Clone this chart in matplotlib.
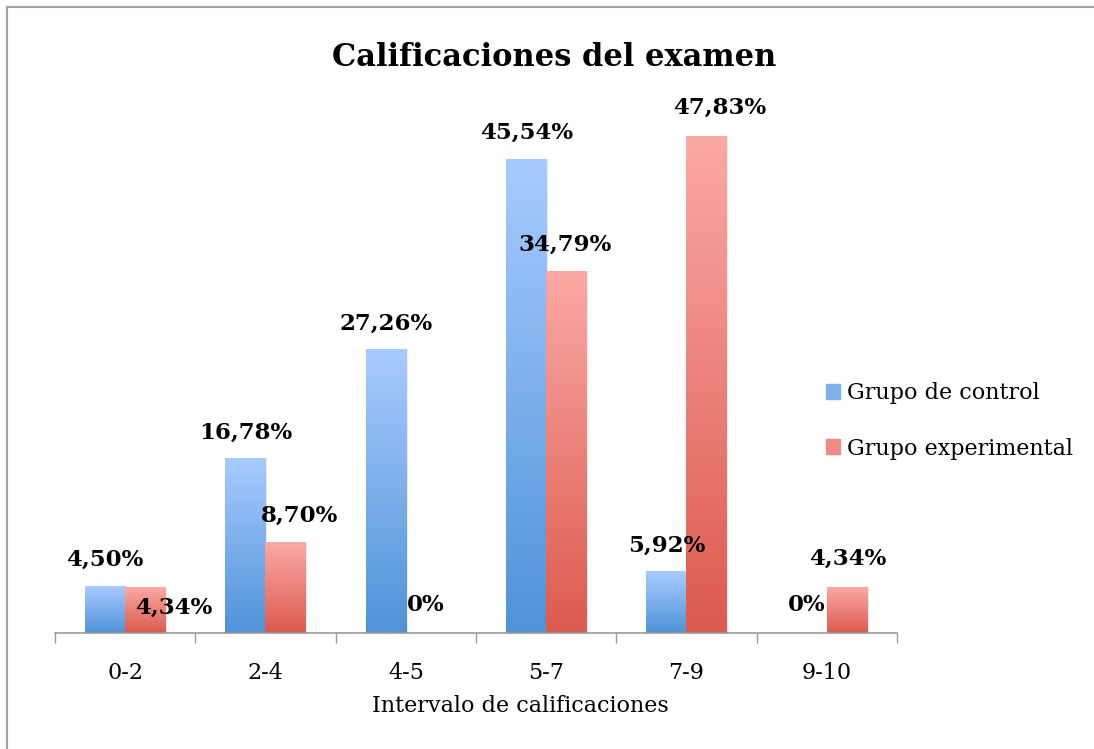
import numpy as np
import matplotlib.pyplot as plt
from matplotlib.colors import LinearSegmentedColormap
from matplotlib.patches import Rectangle
from matplotlib.lines import Line2D

categories = ['0-2', '2-4', '4-5', '5-7', '7-9', '9-10']
control = [4.50, 16.78, 27.26, 45.54, 5.92, 0.0]
experimental = [4.34, 8.70, 0.0, 34.79, 47.83, 4.34]
control_labels = ['4,50%', '16,78%', '27,26%', '45,54%', '5,92%', '0%']
experimental_labels = ['4,34%', '8,70%', '0%', '34,79%', '47,83%', '4,34%']
series_names = ['Grupo de control', 'Grupo experimental']

# label offsets in pixels (dx, dy from bar top)
ctrl_off = [(0, 26), (0, 26), (0, 26), (0, 27), (0, 26), (0, 28)]
exp_off = [(29, -20), (14, 27), (0, 28), (-1, 27), (13, 28), (1, 29)]

blue_cmap = LinearSegmentedColormap.from_list('b', ['#4f93d8', '#a8cbff'])
red_cmap = LinearSegmentedColormap.from_list('r', ['#dc5a4f', '#fba9a5'])

plt.rcParams['font.family'] = ['DejaVu Serif']

fig = plt.figure(figsize=(10.94, 7.49), dpi=100)
ax = fig.add_axes([55 / 1094, 1 - 633 / 749, (897 - 55) / 1094, (633 - 113.5) / 749])

x = np.arange(len(categories))
w = 40 / 140.3
grad = np.linspace(0, 1, 256).reshape(-1, 1)


def gradient_bars(xs, vals, cmap):
    for xi, v in zip(xs, vals):
        if v <= 0:
            continue
        # soft shadow
        ax.add_patch(Rectangle((xi - w / 2 + 0.012, 0), w, v, color='#000000',
                               alpha=0.08, lw=0, zorder=1))
        ax.imshow(grad, cmap=cmap, aspect='auto', origin='lower',
                  extent=(xi - w / 2, xi + w / 2, 0, v), zorder=2)


gradient_bars(x - w / 2, control, blue_cmap)
gradient_bars(x + w / 2, experimental, red_cmap)

for i in range(len(categories)):
    for xi, v, lab, off in [(x[i] - w / 2, control[i], control_labels[i], ctrl_off[i]),
                            (x[i] + w / 2, experimental[i], experimental_labels[i], exp_off[i])]:
        ax.annotate(lab, (xi, v), xytext=(off[0] * 0.72, off[1] * 0.72),
                    textcoords='offset points', ha='center', va='center',
                    fontsize=16.5, fontweight='bold', zorder=5)

ax.set_xlim(-0.5, len(categories) - 0.5)
ax.set_ylim(0, 50)
ax.set_xticks(np.arange(-0.5, len(categories), 1))
ax.set_xticklabels([])
ax.set_xticks(x, minor=True)
ax.set_xticklabels(categories, minor=True, fontsize=16)
ax.tick_params(axis='x', which='major', length=7, color='#999999', width=1)
ax.tick_params(axis='x', which='minor', length=0, pad=21)
ax.set_yticks([])
for s in ['top', 'right', 'left']:
    ax.spines[s].set_visible(False)
ax.spines['bottom'].set_color('#999999')
ax.spines['bottom'].set_linewidth(1.2)
ax.spines['bottom'].set_zorder(4)
ax.set_xlabel('Intervalo de calificaciones', fontsize=16)
ax.xaxis.set_label_coords((520 - 55) / 842, -62 / 519.5)

fig.text(554 / 1094, 1 - 58 / 749, 'Calificaciones del examen', ha='center', va='center',
         fontsize=22, fontweight='bold')

handles = [Rectangle((0, 0), 1, 1, color='#7eb0ec'), Rectangle((0, 0), 1, 1, color='#f08a84')]
fig.legend(handles, series_names, loc='center left', bbox_to_anchor=(806 / 1094, 1 - 421 / 749),
           frameon=False, fontsize=16, handlelength=0.65, handleheight=0.65,
           handletextpad=0.3, labelspacing=1.5)

# chart frame (top and left edges visible)
fig.add_artist(Line2D([7 / 1094, 7 / 1094], [0, 1 - 7 / 749], transform=fig.transFigure,
                      color='#a0a0a0', lw=1.5))
fig.add_artist(Line2D([7 / 1094, 1], [1 - 7 / 749, 1 - 7 / 749], transform=fig.transFigure,
                      color='#a0a0a0', lw=1.5))

fig.savefig('out.png', dpi=100)
